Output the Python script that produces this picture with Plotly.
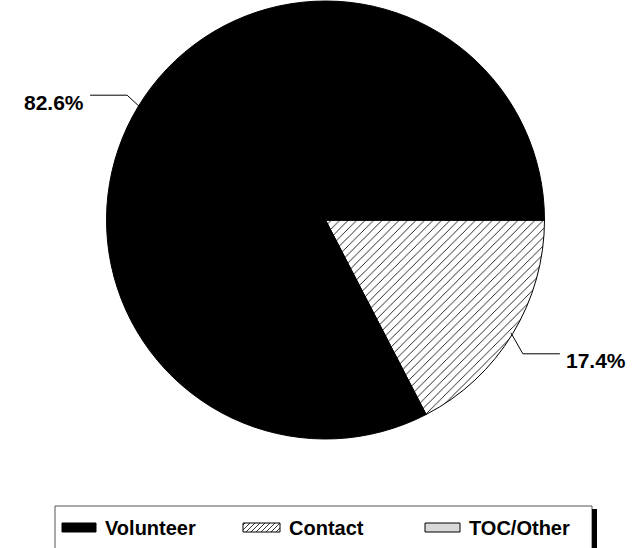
import math
import plotly.graph_objects as go

# ---- data ----
labels = ["Volunteer", "Contact", "TOC/Other"]
values = [82.6, 17.4, 0.0]
pct_text = ["82.6%", "17.4%", ""]

# ---- styles ----
W, H = 634, 548
colors = ["#000000", "#ffffff", "#d9d9d9"]
patterns = ["", "/", ""]
pie_order = [1, 0, 2]  # drawing order, clockwise from 3 o'clock
knee_dx = [-13, 12, 0]   # leader-line elbow offsets (px) per label
knee_dy = [-12, 21, 0]
FONT = dict(family="Liberation Sans, Arial, sans-serif", size=20, color="#000000", weight="bold")
LABEL_FONT = dict(FONT, size=21)

cx, cy, R = 325.5, 220.0, 219.0  # pixel geometry of pie


def px(x):
    return x / W


def py(y):
    return 1 - y / H


fig = go.Figure()
fig.add_trace(go.Pie(
    labels=[labels[i] for i in pie_order],
    values=[values[i] for i in pie_order],
    sort=False,
    direction="clockwise",
    rotation=90,
    textinfo="none",
    hoverinfo="label+percent",
    showlegend=False,
    marker=dict(
        colors=[colors[i] for i in pie_order],
        line=dict(color="#000000", width=1),
        pattern=dict(shape=[patterns[i] for i in pie_order], fgcolor="#000000",
                     bgcolor="#ffffff", size=6, solidity=0.14),
    ),
    domain=dict(x=[px(cx - R), px(cx + R)], y=[py(cy + R), py(cy - R)]),
))

shapes = []
annotations = []

# leader lines + labels, positioned from slice mid-angles (clockwise from 3 o'clock)
total = sum(values)
start = 0.0  # degrees, math convention
for i in pie_order:
    v, t = values[i], pct_text[i]
    span = 360.0 * v / total
    mid = math.radians(start - span / 2)
    start -= span
    if v <= 0 or not t:
        continue
    ex, ey = cx + (R - 2) * math.cos(mid), cy - (R - 2) * math.sin(mid)
    kx, ky = ex + knee_dx[i], ey + knee_dy[i]
    side = 1 if math.cos(mid) > 0 else -1
    hx = kx + side * 37
    shapes.append(dict(
        type="path", xref="paper", yref="paper",
        path=f"M {px(ex)},{py(ey)} L {px(kx)},{py(ky)} L {px(hx)},{py(ky)}",
        line=dict(color="#000000", width=1),
    ))
    annotations.append(dict(
        x=px(hx + side * 4), y=py(ky + 7), xref="paper", yref="paper",
        text=t, showarrow=False, font=LABEL_FONT,
        xanchor="left" if side > 0 else "right", yanchor="middle",
    ))

# ---- custom legend box ----
bx0, by0, bx1, by1 = 55, 506, 592, 560
shapes.append(dict(type="rect", xref="paper", yref="paper",
                   x0=px(bx0), y0=py(by0), x1=px(bx1), y1=py(by1),
                   line=dict(color="#555555", width=1), fillcolor="rgba(0,0,0,0)"))
shapes.append(dict(type="rect", xref="paper", yref="paper",
                   x0=px(592), y0=py(509), x1=px(597), y1=py(560),
                   line=dict(width=0), fillcolor="#000000"))

sym_x = [62, 243, 425]
sym_w = [34, 37, 35]
sym_y0, sym_y1 = 523, 532
for i, lab in enumerate(labels):
    x0, x1 = sym_x[i], sym_x[i] + sym_w[i]
    shapes.append(dict(type="rect", xref="paper", yref="paper",
                       x0=px(x0), y0=py(sym_y0), x1=px(x1), y1=py(sym_y1),
                       line=dict(color="#000000", width=1), fillcolor=colors[i]))
    if patterns[i] == "/":
        segs = []
        c = x0 + sym_y0 + 2
        while c < x1 + sym_y1:
            xa = max(x0, c - sym_y1)
            xb = min(x1, c - sym_y0)
            if xb > xa:
                segs.append(f"M {px(xa)},{py(c - xa)} L {px(xb)},{py(c - xb)}")
            c += 5
        shapes.append(dict(type="path", xref="paper", yref="paper", path=" ".join(segs),
                           line=dict(color="#000000", width=0.8)))
    annotations.append(dict(
        x=px(x1 + 7), y=py(527.5), xref="paper", yref="paper",
        text=lab, showarrow=False, font=FONT, xanchor="left", yanchor="middle",
    ))

fig.update_layout(
    width=W, height=H,
    margin=dict(l=0, r=0, t=0, b=0),
    paper_bgcolor="#ffffff",
    plot_bgcolor="#ffffff",
    shapes=shapes,
    annotations=annotations,
    showlegend=False,
)

# remove the browser's default 8px body margin so the figure fills the window
fig.write_html(
    "out.html",
    config={"displayModeBar": False},
    post_script="document.body.style.margin='0';document.body.style.overflow='hidden';",
)
